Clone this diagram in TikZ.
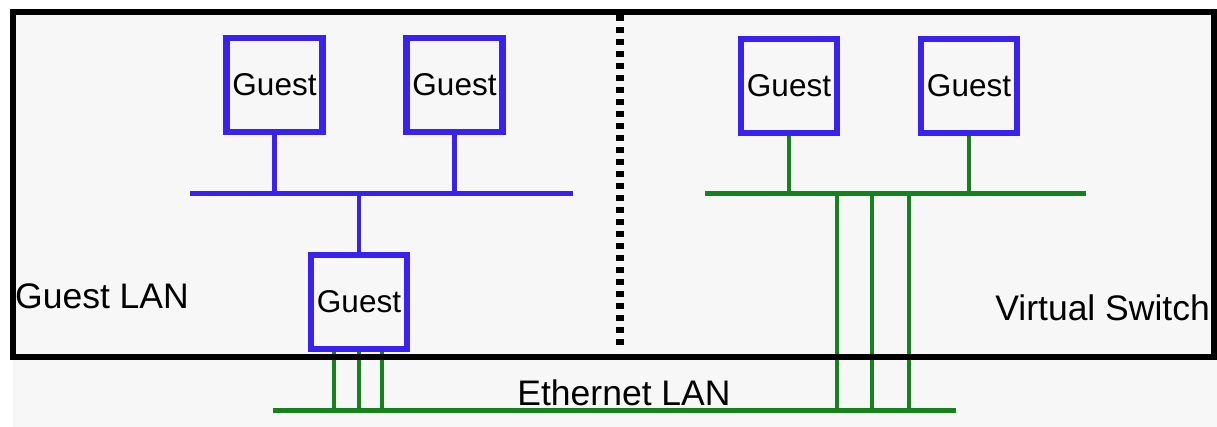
\documentclass[tikz,border=0pt]{standalone}
\usepackage{fontspec}
\setmainfont{Liberation Sans}
\pgfdeclarelayer{front}
\pgfsetlayers{main,front}
\definecolor{guestblue}{RGB}{58,34,238}
\definecolor{langreen}{RGB}{22,130,28}
\definecolor{panelgray}{RGB}{247,247,247}
\begin{document}
\begin{tikzpicture}[x=1pt,y=-1pt,
  guestbox/.style={draw=guestblue, line width=6.5pt, minimum width=96pt,
    minimum height=94pt, inner sep=0pt, font=\fontsize{31.5}{36}\selectfont},
  areatext/.style={inner sep=0pt, font=\fontsize{35.5}{40}\selectfont},
  bluewire/.style={guestblue, line width=4.5pt},
  bluebus/.style={guestblue, line width=5pt},
  greenwire/.style={langreen, line width=4.5pt},
  greenbus/.style={langreen, line width=5pt},
  framestyle/.style={black, line width=6pt},
  divider/.style={black, line width=7.5pt, dash pattern=on 6pt off 6pt}]

\useasboundingbox (0,0) rectangle (1217,427);
\fill[white] (0,0) rectangle (1217,427);
\fill[panelgray] (13,12) rectangle (1217,427);

% guests
\node[guestbox] (g1) at (274.5,85) {Guest};
\node[guestbox] (g2) at (454.5,85) {Guest};
\node[guestbox] (g3) at (359,302) {Guest};
\node[guestbox] (g4) at (789,86) {Guest};
\node[guestbox] (g5) at (969,86) {Guest};

% area labels
\node[areatext, anchor=west] (glan) at (15,296) {Guest LAN};
\node[areatext, anchor=east] (vsw) at (1210,307.5) {Virtual Switch};
\node[areatext] (eth) at (624,392.5) {Ethernet LAN};

% guest LAN bus
\coordinate (lanL) at (190,194);
\coordinate (lanR) at (573,194);
\draw[bluebus] (lanL) -- (lanR);
\draw[bluewire] (g1.south) -- (g1.south |- lanL);
\draw[bluewire] (g2.south) -- (g2.south |- lanL);
\draw[bluewire] (g3.north) -- (g3.north |- lanL);

% virtual switch bus
\coordinate (vsL) at (705,194);
\coordinate (vsR) at (1086,194);
\draw[greenbus] (vsL) -- (vsR);
\draw[greenwire] (g4.south) -- (g4.south |- vsL);
\draw[greenwire] (g5.south) -- (g5.south |- vsL);

% ethernet LAN
\coordinate (ethL) at (273,410);
\coordinate (ethR) at (956,410);
\draw[greenbus] (ethL) -- (ethR);

% uplinks from the guest on the ethernet
\coordinate (t1) at (334,410);
\coordinate (t2) at (359,410);
\coordinate (t3) at (382,410);
\foreach \t in {t1,t2,t3}
  \draw[greenwire] (\t |- g3.south) -- (\t);

% uplinks from the virtual switch
\coordinate (u1) at (837,410);
\coordinate (u2) at (872,410);
\coordinate (u3) at (909,410);
\foreach \u in {u1,u2,u3}
  \draw[greenwire] (\u |- vsL) -- (\u);

% host frame and divider
\begin{pgfonlayer}{front}
  \draw[framestyle] (13,12) rectangle (1214,357);
  \draw[divider] (620,15) -- (620,347);
\end{pgfonlayer}
\end{tikzpicture}
\end{document}
